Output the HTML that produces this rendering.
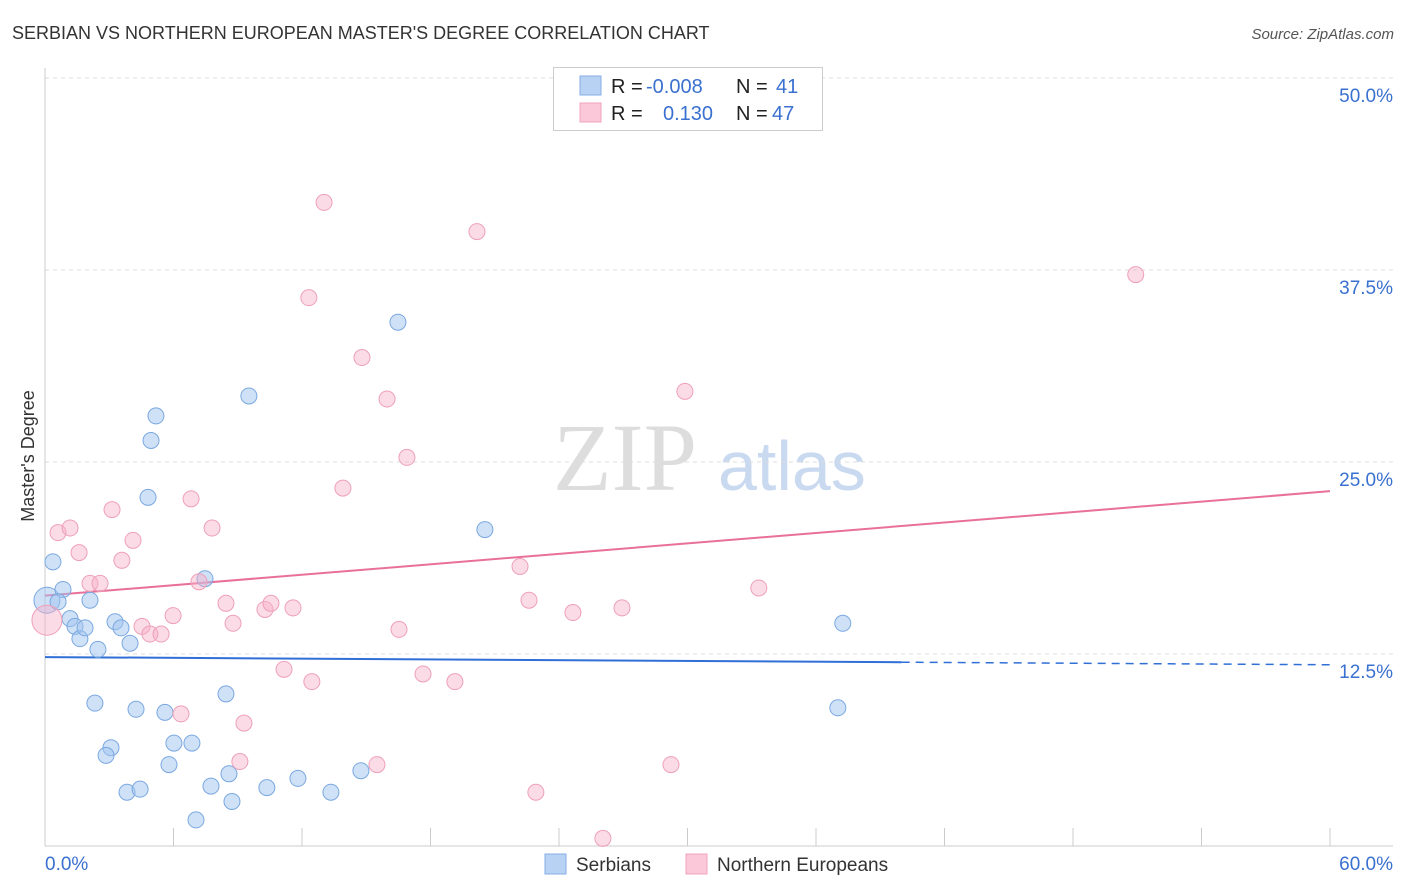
<!DOCTYPE html>
<html><head><meta charset="utf-8">
<style>
body{margin:0;background:#fff;font-family:"Liberation Sans",sans-serif;}
svg{display:block}
</style></head>
<body>
<svg id="chart" width="1406" height="892" xmlns="http://www.w3.org/2000/svg">
<text x="12" y="39" font-size="18" fill="#333" font-family="Liberation Sans, sans-serif">SERBIAN VS NORTHERN EUROPEAN MASTER'S DEGREE CORRELATION CHART</text>
<text x="1394" y="39" font-size="15" fill="#555" font-style="italic" text-anchor="end">Source: ZipAtlas.com</text>
<g>
<text x="553" y="490" font-size="96" fill="#ddd" font-family="Liberation Serif, serif">ZIP</text>
<text x="718" y="490" font-size="70" fill="#c9d9f0">atlas</text>
</g>
<g id="grid"></g>
<g id="axes"></g>
<g id="lines"></g>
<g id="pts"></g>
<text transform="translate(34,456) rotate(-90)" font-size="18" fill="#333" text-anchor="middle">Master's Degree</text>
<g>
<rect x="553.5" y="67.5" width="269" height="63" fill="#fff" stroke="#ccc"/>
<rect x="580" y="76" width="21" height="19" fill="#b8d2f3" stroke="#86aee6"/>
<rect x="580" y="103" width="21" height="19" fill="#fac8d8" stroke="#f0a2bd"/>
<text x="611" y="93" font-size="20" fill="#222">R =</text>
<text x="646" y="93" font-size="20" fill="#3a70d0">-0.008</text>
<text x="736" y="93" font-size="20" fill="#222">N =</text>
<text x="776" y="93" font-size="20" fill="#3a70d0">41</text>
<text x="611" y="120" font-size="20" fill="#222">R =</text>
<text x="663" y="120" font-size="20" fill="#3a70d0">0.130</text>
<text x="736" y="120" font-size="20" fill="#222">N =</text>
<text x="772" y="120" font-size="20" fill="#3a70d0">47</text>
</g>
<g>
<rect x="545" y="854" width="21" height="20" fill="#b8d2f3" stroke="#86aee6"/>
<text x="576" y="871" font-size="19" fill="#333">Serbians</text>
<rect x="686" y="854" width="21" height="20" fill="#fac8d8" stroke="#f0a2bd"/>
<text x="717" y="871" font-size="19" fill="#333">Northern Europeans</text>
</g>
</svg>
<script>
const xTicks=[0,6,12,18,24,30,36,42,48,54,60];
const yTicks=[12.5,25,37.5,50];
const serbX=[0.09,0.37,0.84,0.61,1.17,1.40,1.63,1.87,2.10,2.47,2.33,3.08,2.85,3.27,3.55,3.97,4.25,3.83,4.44,4.81,4.95,5.18,5.60,5.79,6.02,6.86,7.05,7.47,7.75,8.45,8.59,8.73,9.52,10.36,11.81,13.35,14.75,16.48,20.54,37.25,37.02];
const serbY=[16.0,18.5,16.7,15.9,14.8,14.3,13.5,14.2,16.0,12.8,9.3,6.4,5.9,14.6,14.2,13.2,8.9,3.5,3.7,22.7,26.4,28.0,8.7,5.3,6.7,6.7,1.7,17.4,3.9,9.9,4.7,2.9,29.3,3.8,4.4,3.5,4.9,34.1,20.6,14.5,9.0];
const nordX=[0.09,0.61,1.17,1.59,2.10,2.57,3.13,3.59,4.11,4.53,4.90,5.42,5.98,6.35,6.82,7.19,7.80,8.45,8.78,9.29,9.10,10.27,10.55,11.16,11.58,12.32,12.46,13.03,13.91,14.80,15.50,15.97,16.53,16.90,17.65,19.14,20.17,22.18,22.60,22.92,24.65,26.05,26.94,29.23,29.88,33.33,50.93];
const nordY=[14.7,20.4,20.7,19.1,17.1,17.1,21.9,18.6,19.9,14.3,13.8,13.8,15.0,8.6,22.6,17.2,20.7,15.8,14.5,8.0,5.5,15.4,15.8,11.5,15.5,35.7,10.7,41.9,23.3,31.8,5.3,29.1,14.1,25.3,11.2,10.7,40.0,18.2,16.0,3.5,15.2,0.5,15.5,5.3,29.6,16.8,37.2];
const serbTrend=[12.3,11.8]; // value at x=0 and x=60
const nordTrend=[16.3,23.1];
const serbSolidEnd=40;
const NS="http://www.w3.org/2000/svg";
const X=v=>45+v*(1285/60);
const Y=v=>846-v*15.36;
function mk(tag,attrs,parent){const e=document.createElementNS(NS,tag);for(const k in attrs)e.setAttribute(k,attrs[k]);document.getElementById(parent).appendChild(e);return e;}
yTicks.forEach(t=>{
 const l=mk('line',{x1:45,x2:1393,y1:Y(t),y2:Y(t),stroke:'#ddd','stroke-dasharray':'4,4'},'grid');
 
 
 const tx=mk('text',{x:1393,y:Y(t)+24,'font-size':19,fill:'#3a70d0','text-anchor':'end'},'grid');
 tx.textContent=t.toFixed(1)+'%';
 
 
});
mk('line',{x1:45,x2:45,y1:68,y2:846,stroke:'#ccc'},'axes');
mk('line',{x1:45,x2:1393,y1:846,y2:846,stroke:'#ccc'},'axes');
xTicks.forEach(t=>{
 const l=mk('line',{x1:X(t),x2:X(t),y1:828,y2:846,stroke:'#ccc'},'axes');
 
 
});
[[0,'start',45],[60,'end',1393]].forEach(([t,a,px])=>{
 const tx=mk('text',{x:px,y:870,'font-size':19,fill:'#3a70d0','text-anchor':a},'axes');
 tx.textContent=t.toFixed(1)+'%';
 
 
});
const ty=(tr,x)=>tr[0]+(tr[1]-tr[0])*x/60;
let l1=mk('line',{x1:X(0),y1:Y(ty(serbTrend,0)),x2:X(serbSolidEnd),y2:Y(ty(serbTrend,serbSolidEnd)),stroke:'#2f6fd6','stroke-width':2},'lines');


let l2=mk('line',{x1:X(serbSolidEnd),y1:Y(ty(serbTrend,serbSolidEnd)),x2:X(60),y2:Y(ty(serbTrend,60)),stroke:'#2f6fd6','stroke-width':1.5,'stroke-dasharray':'8,6'},'lines');


let l3=mk('line',{x1:X(0),y1:Y(nordTrend[0]),x2:X(60),y2:Y(nordTrend[1]),stroke:'#e8709a','stroke-width':2},'lines');


serbX.forEach((x,i)=>{
 const c=mk('circle',{cx:X(x),cy:Y(serbY[i]),r:i===0?13:8,fill:'rgba(160,196,240,0.5)',stroke:'#7aa8e0','stroke-width':1},'pts');
 
 
});
nordX.forEach((x,i)=>{
 const c=mk('circle',{cx:X(x),cy:Y(nordY[i]),r:i===0?15:8,fill:'rgba(246,176,200,0.45)',stroke:'#eea0b8','stroke-width':1},'pts');
 
 
});
</script>
</body></html>
